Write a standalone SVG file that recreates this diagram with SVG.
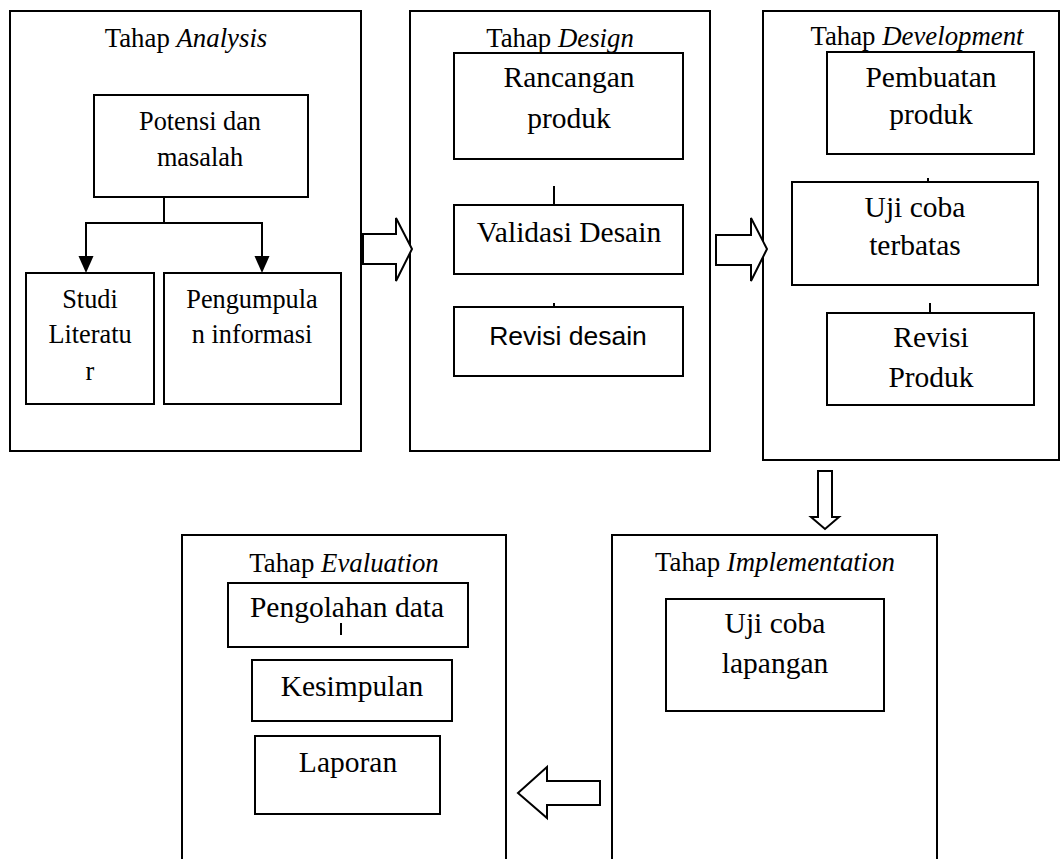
<svg xmlns="http://www.w3.org/2000/svg" width="1060" height="859" viewBox="0 0 1060 859">
<defs>
<style>
.box{fill:none;stroke:#000;stroke-width:2}
.t{font-family:"Liberation Serif","Times New Roman",serif;fill:#000;text-anchor:middle}
.title{font-size:26.8px}
.a{font-size:26.3px}
.b{font-size:29.5px}
.s{font-family:"Liberation Sans",Arial,sans-serif;font-size:26.5px;fill:#000;text-anchor:middle}
.ln{stroke:#000;stroke-width:2;fill:none}
.blk{fill:#fff;stroke:#000;stroke-width:2;stroke-linejoin:miter}
</style>
</defs>
<rect width="1060" height="859" fill="#fff"/>

<g id="analysis">
<rect class="box" x="10" y="11" width="351" height="440"/>
<text class="t title" x="186" y="47">Tahap <tspan font-style="italic">Analysis</tspan></text>
</g>
<g id="potensi">
<rect class="box" x="94" y="95" width="214" height="102"/>
<text class="t a" x="200" y="130">Potensi dan</text>
<text class="t a" x="200" y="166">masalah</text>
</g>
<g id="studi">
<rect class="box" x="26" y="273" width="128" height="131"/>
<text class="t a" x="90" y="308">Studi</text>
<text class="t a" x="90" y="343">Literatu</text>
<text class="t a" x="90" y="380">r</text>
</g>
<g id="pengumpulan">
<rect class="box" x="164" y="273" width="177" height="131"/>
<text class="t a" x="252" y="308">Pengumpula</text>
<text class="t a" x="252" y="343">n informasi</text>
</g>

<g id="design">
<rect class="box" x="410" y="11" width="300" height="440"/>
<text class="t title" x="560" y="47">Tahap <tspan font-style="italic">Design</tspan></text>
</g>
<g id="rancangan">
<rect class="box" x="454" y="53" width="229" height="106"/>
<text class="t b" x="569" y="87">Rancangan</text>
<text class="t b" x="569" y="128">produk</text>
</g>
<g id="validasi">
<rect class="box" x="454" y="205" width="229" height="69"/>
<text class="t b" x="569" y="242">Validasi Desain</text>
</g>
<g id="revisi-desain">
<rect class="box" x="454" y="307" width="229" height="69"/>
<text class="s" x="568" y="345">Revisi desain</text>
</g>

<g id="development">
<rect class="box" x="763" y="11" width="296" height="449"/>
<text class="t title" x="917" y="45">Tahap <tspan font-style="italic">Development</tspan></text>
</g>
<g id="pembuatan">
<rect class="box" x="827" y="52" width="207" height="102"/>
<text class="t b" x="931" y="87">Pembuatan</text>
<text class="t b" x="931" y="124">produk</text>
</g>
<g id="ujicoba-terbatas">
<rect class="box" x="792" y="182" width="246" height="103"/>
<text class="t b" x="915" y="217">Uji coba</text>
<text class="t b" x="915" y="255">terbatas</text>
</g>
<g id="revisi-produk">
<rect class="box" x="827" y="313" width="207" height="92"/>
<text class="t b" x="931" y="347">Revisi</text>
<text class="t b" x="931" y="387">Produk</text>
</g>

<g id="implementation">
<rect class="box" x="612" y="535" width="325" height="340"/>
<text class="t title" x="775" y="571">Tahap <tspan font-style="italic">Implementation</tspan></text>
</g>
<g id="ujicoba-lapangan">
<rect class="box" x="666" y="599" width="218" height="112"/>
<text class="t b" x="775" y="633">Uji coba</text>
<text class="t b" x="775" y="673">lapangan</text>
</g>

<g id="evaluation">
<rect class="box" x="182" y="535" width="324" height="340"/>
<text class="t title" x="344" y="572">Tahap <tspan font-style="italic">Evaluation</tspan></text>
</g>
<g id="pengolahan">
<rect class="box" x="228" y="583" width="240" height="64"/>
<text class="t b" x="347" y="617">Pengolahan data</text>
</g>
<g id="kesimpulan">
<rect class="box" x="252" y="660" width="200" height="61"/>
<text class="t b" x="352" y="696">Kesimpulan</text>
</g>
<g id="laporan">
<rect class="box" x="255" y="736" width="185" height="78"/>
<text class="t b" x="348" y="772">Laporan</text>
</g>

<g id="connectors">
<path class="ln" d="M164,197 V223"/>
<path class="ln" d="M86,258 V223 H262 V258" stroke-width="2.5" stroke-linejoin="miter"/>
<path d="M78.5,256 L93.5,256 L86,273 Z" fill="#000"/>
<path d="M254.5,256 L269.5,256 L262,273 Z" fill="#000"/>
<line class="ln" x1="554" y1="186" x2="554" y2="205"/>
<line class="ln" x1="554" y1="303" x2="554" y2="307"/>
<line class="ln" x1="928" y1="178" x2="928" y2="182"/>
<line class="ln" x1="930" y1="303" x2="930" y2="313"/>
<line class="ln" x1="341" y1="623" x2="341" y2="635"/>
<path class="blk" d="M362,234 H396 V218 L412,249 L396,281 V264 H362 Z"/>
<line x1="362.5" y1="234" x2="362.5" y2="264" stroke="#000" stroke-width="3"/>
<path class="blk" d="M716,235 H751 V218 L767,249 L751,281 V265 H716 Z"/>
<path class="blk" d="M818,471 H832 V517 H839 L825,529 L811,517 H818 Z"/>
<path class="blk" d="M600,781 V805 H547 V818 L518,793 L547,767 V781 Z"/>
</g>
</svg>
